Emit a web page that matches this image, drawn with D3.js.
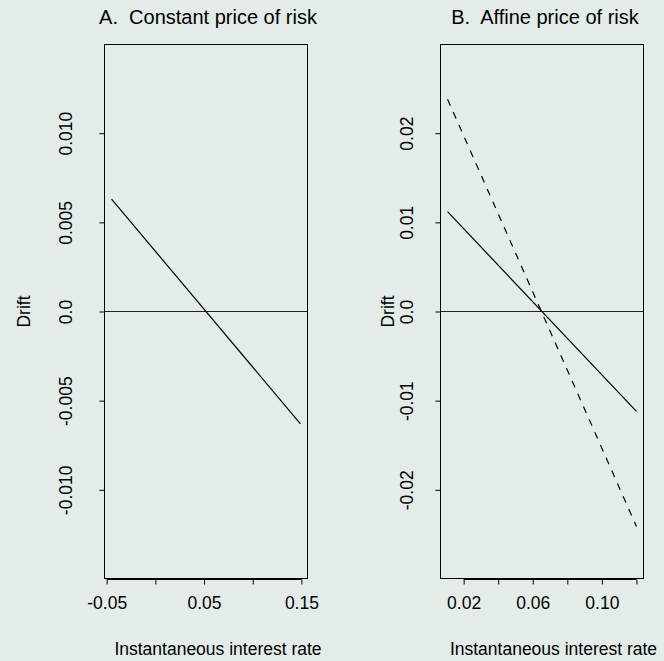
<!DOCTYPE html>
<html>
<head>
<meta charset="utf-8">
<script src="https://cdn.jsdelivr.net/npm/d3@7/dist/d3.min.js"></script>
<style>
  html, body { margin: 0; padding: 0; background: #e4ece9; }
  svg { display: block; }
  text { font-family: "Liberation Sans", Arial, sans-serif; fill: #000; white-space: pre; }
</style>
</head>
<body>
<svg id="chart" width="664" height="661"></svg>
<script>
// ---- Data ----
const titles = ["A.  Constant price of risk", "B.  Affine price of risk"];
const xAxisTitle = "Instantaneous interest rate";
const yAxisTitle = "Drift";

// Panel A: constant price of risk
const rateA = [-0.045, 0.149];
const driftA = [0.0063, -0.0063];
const yLimA = [-0.015, 0.015];
const xTicksA = [-0.05, 0, 0.05, 0.10, 0.15];
const xTickLabelsA = ["-0.05", "", "0.05", "", "0.15"];
const yTicksA = [0.010, 0.005, 0, -0.005, -0.010];
const yTickLabelsA = ["0.010", "0.005", "0.0", "-0.005", "-0.010"];

// Panel B: affine price of risk
const rateB = [0.0107, 0.12];
const driftBSolid = [0.0112, -0.0112];
const driftBDashed = [0.0238, -0.0241];
const yLimB = [-0.03, 0.03];
const xTicksB = [0.02, 0.04, 0.06, 0.08, 0.10, 0.12];
const xTickLabelsB = ["0.02", "", "0.06", "", "0.10", ""];
const yTicksB = [0.02, 0.01, 0, -0.01, -0.02];
const yTickLabelsB = ["0.02", "0.01", "0.0", "-0.01", "-0.02"];

// ---- Drawing ----
const svg = d3.select("#chart");

function extendRange(ext) {
  const d = ext[1] - ext[0];
  return [ext[0] - 0.04 * d, ext[1] + 0.04 * d];
}

function drawPanel(cfg) {
  const g = svg.append("g");
  const x = d3.scaleLinear().domain(extendRange(d3.extent(cfg.rate))).range([cfg.left, cfg.right]);
  const y = d3.scaleLinear().domain(cfg.yLim).range([cfg.bottom, cfg.top]);

  // zero line
  g.append("line")
    .attr("x1", cfg.left).attr("x2", cfg.right)
    .attr("y1", y(0)).attr("y2", y(0))
    .attr("stroke", "#222").attr("stroke-width", 1);

  // series
  const line = d3.line().x(d => x(d[0])).y(d => y(d[1]));
  cfg.series.forEach(s => {
    g.append("path")
      .attr("d", line(d3.zip(cfg.rate, s.values)))
      .attr("fill", "none")
      .attr("stroke", "#000")
      .attr("stroke-width", 1.2)
      .attr("stroke-dasharray", s.dash || null);
  });

  // box
  g.append("rect")
    .attr("x", cfg.left + 0.5).attr("y", cfg.top + 0.5)
    .attr("width", cfg.right - cfg.left - 1).attr("height", cfg.bottom - cfg.top - 1)
    .attr("fill", "none").attr("stroke", "#000").attr("stroke-width", 1);

  // x axis
  const xAxis = d3.axisBottom(x)
    .tickValues(cfg.xTicks)
    .tickSize(5)
    .tickPadding(12)
    .tickFormat((d, i) => cfg.xTickLabels[i]);
  const gx = g.append("g")
    .attr("transform", `translate(0,${cfg.bottom + 0.5})`)
    .call(xAxis);
  gx.select(".domain").attr("d", `M${x(cfg.xTicks[0])},0H${x(cfg.xTicks[cfg.xTicks.length - 1])}`)
    .attr("stroke", "#000");
  gx.selectAll(".tick line").attr("stroke", "#000");
  gx.selectAll(".tick text")
    .attr("font-size", "17.5px")
    .attr("font-family", "Liberation Sans, Arial, sans-serif")
    .attr("fill", "#000");

  // y axis
  const yAxis = d3.axisLeft(y)
    .tickValues(cfg.yTicks)
    .tickSize(5)
    .tickFormat((d, i) => cfg.yTickLabels[i]);
  const gy = g.append("g")
    .attr("transform", `translate(${cfg.left + 0.5},0)`)
    .call(yAxis);
  gy.select(".domain").attr("d", `M0,${y(cfg.yTicks[0])}V${y(cfg.yTicks[cfg.yTicks.length - 1])}`)
    .attr("stroke", "#000");
  gy.selectAll(".tick line").attr("stroke", "#000");
  gy.selectAll(".tick text")
    .attr("font-size", "17.5px")
    .attr("font-family", "Liberation Sans, Arial, sans-serif")
    .attr("fill", "#000")
    .attr("x", null).attr("dy", null)
    .attr("text-anchor", "middle")
    .attr("transform", `translate(${cfg.yTickBaseline - cfg.left - 0.5},0) rotate(-90)`);

  // titles
  g.append("text")
    .attr("x", cfg.titleX).attr("y", 23.5)
    .attr("text-anchor", "middle")
    .attr("font-size", "20px")
    .text(cfg.title);

  g.append("text")
    .attr("x", cfg.xTitleX).attr("y", 655)
    .attr("text-anchor", "middle")
    .attr("font-size", "17.5px")
    .text(xAxisTitle);

  g.append("text")
    .attr("transform", `translate(${cfg.yTitleBaseline},${(cfg.top + cfg.bottom) / 2}) rotate(-90)`)
    .attr("text-anchor", "middle")
    .attr("font-size", "17.5px")
    .text(yAxisTitle);
}

drawPanel({
  left: 104, right: 308, top: 44, bottom: 579,
  rate: rateA, yLim: yLimA,
  series: [{ values: driftA }],
  xTicks: xTicksA, xTickLabels: xTickLabelsA,
  yTicks: yTicksA, yTickLabels: yTickLabelsA,
  yTickBaseline: 72, yTitleBaseline: 30,
  titleX: 208, xTitleX: 218,
  title: titles[0]
});

drawPanel({
  left: 440, right: 644, top: 44, bottom: 579,
  rate: rateB, yLim: yLimB,
  series: [{ values: driftBSolid }, { values: driftBDashed, dash: "7,7" }],
  xTicks: xTicksB, xTickLabels: xTickLabelsB,
  yTicks: yTicksB, yTickLabels: yTickLabelsB,
  yTickBaseline: 413, yTitleBaseline: 394,
  titleX: 545, xTitleX: 553.5,
  title: titles[1]
});
</script>
</body>
</html>
